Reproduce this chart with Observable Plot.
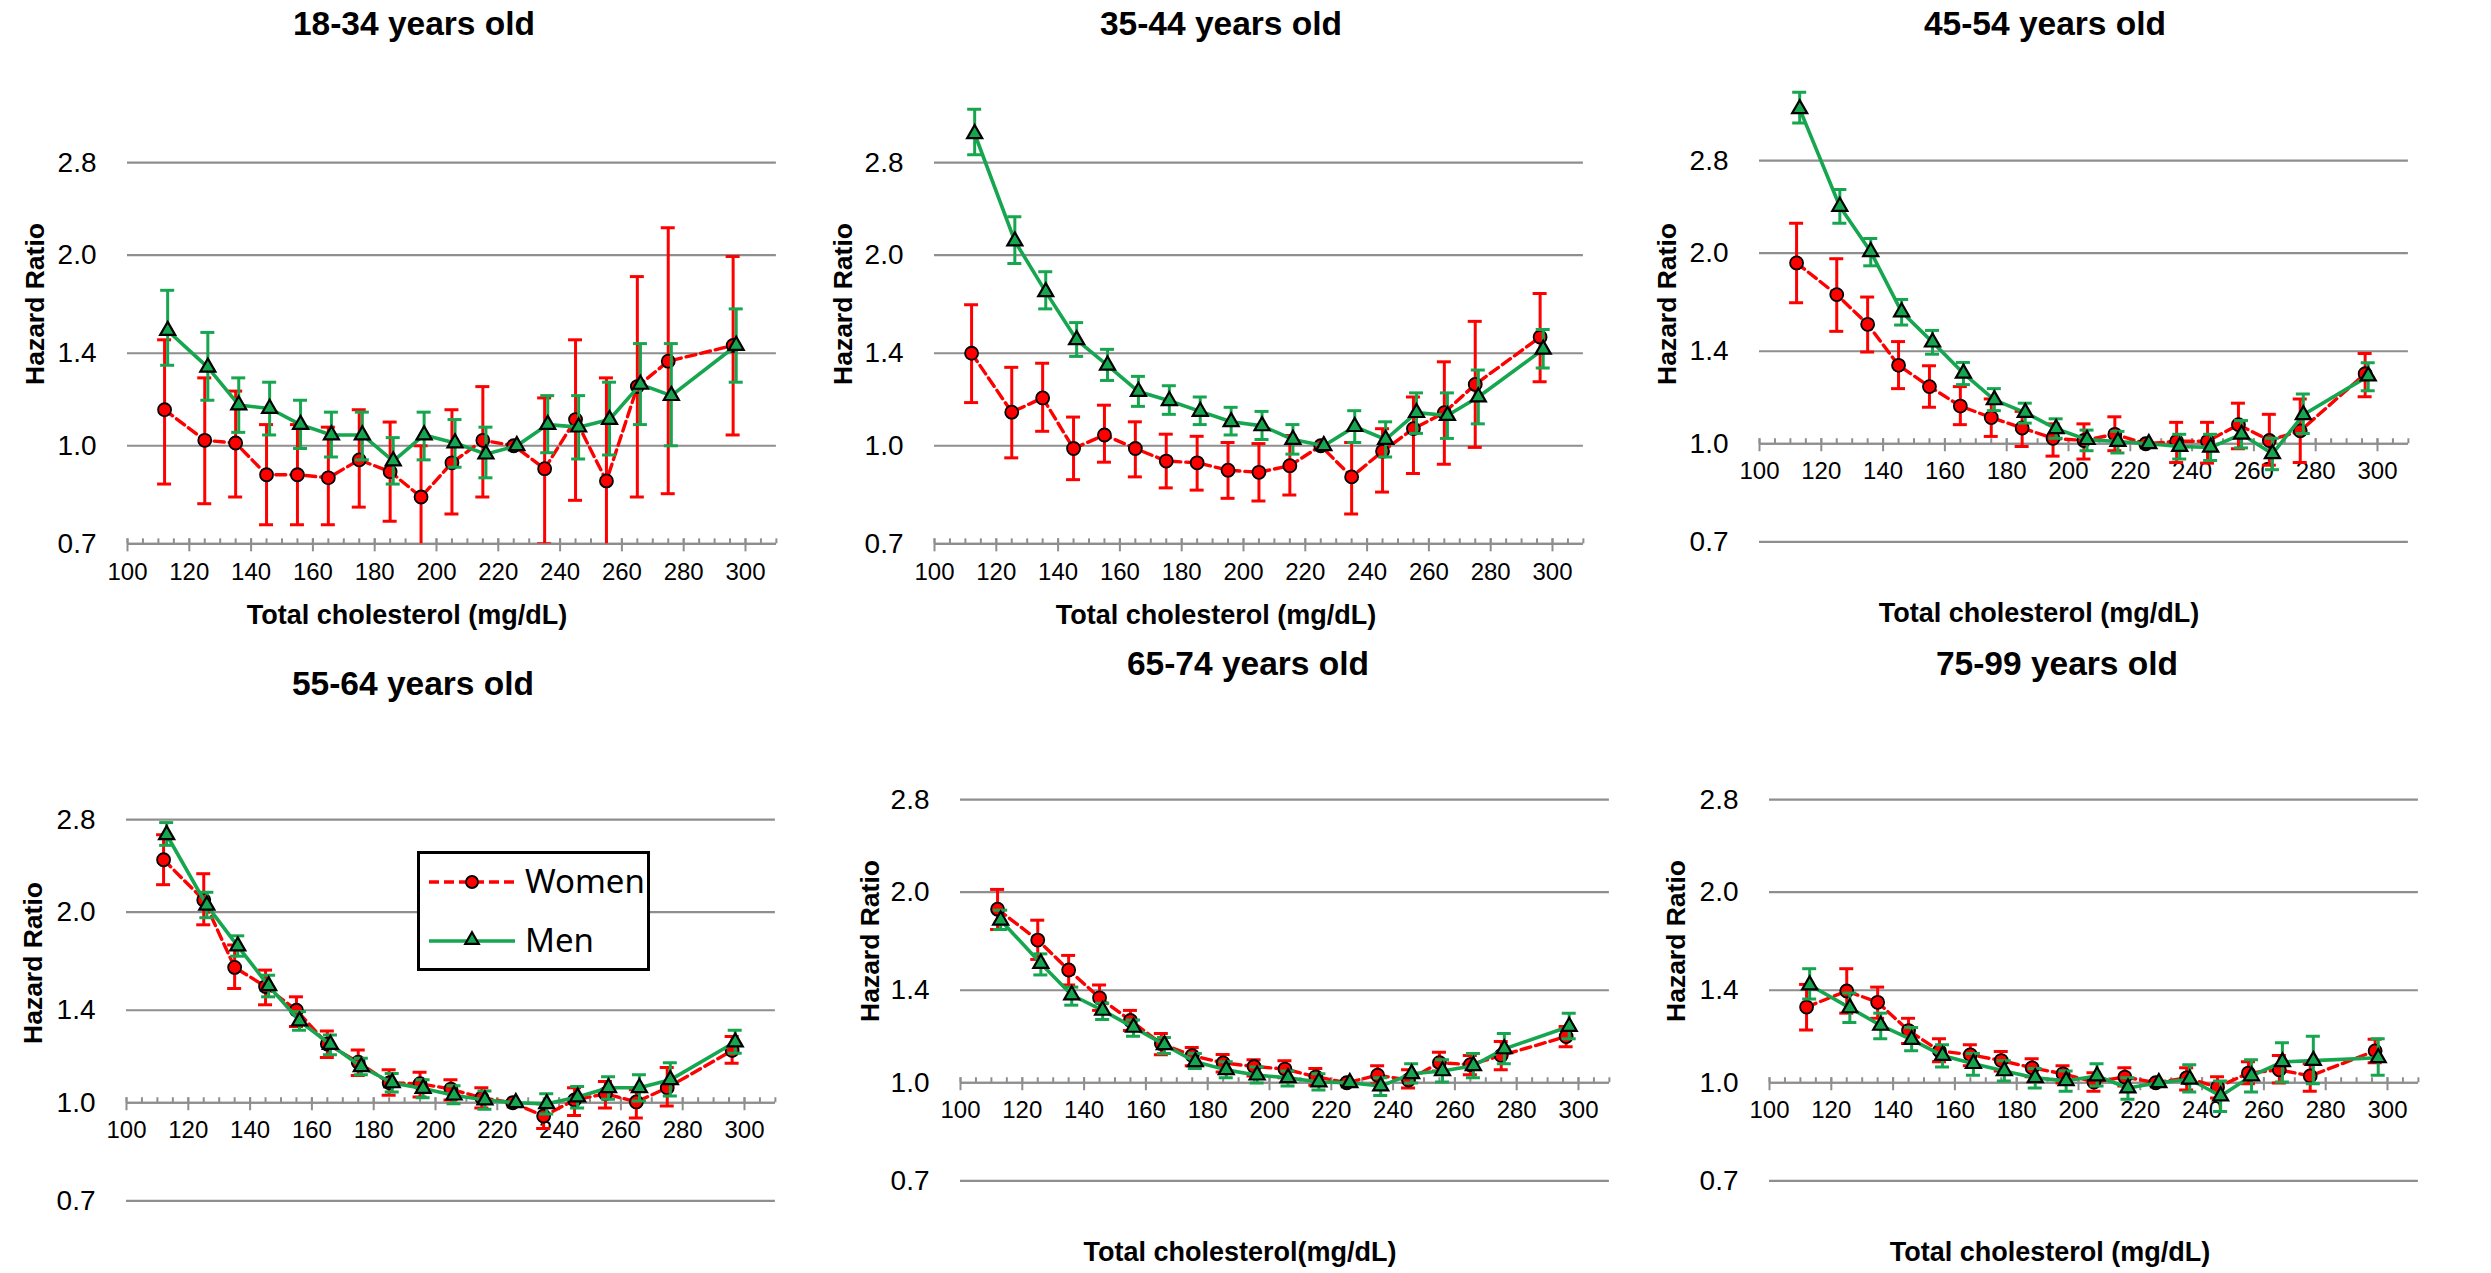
<!DOCTYPE html>
<html>
<head>
<meta charset="utf-8">
<script src="https://cdn.jsdelivr.net/npm/d3@7"></script>
<script src="https://cdn.jsdelivr.net/npm/@observablehq/plot@0.6"></script>
<style>
  body { margin: 0; background: #fff; }
  #wrap { position: relative; width: 2491px; height: 1273px; overflow: hidden; background: #fff;
          font-family: "Liberation Sans", Arial, sans-serif; color: #000; }
  .abs { position: absolute; white-space: nowrap; line-height: 1; }
  .title { font-weight: bold; font-size: 33.5px; transform: translate(-50%, -50%); }
  .ylab { font-weight: bold; font-size: 26.5px; transform: translate(-50%, -50%) rotate(-90deg); }
  .xlab { font-weight: bold; font-size: 27px; transform: translate(-50%, -50%); }
  .legend { position: absolute; background: #fff; border: 3px solid #000; box-sizing: border-box; }
  .legend span { position: absolute; font-family: "Noto Sans", sans-serif; font-size: 33px; line-height: 1; }
</style>
</head>
<body>
<div id="wrap"></div>
<script>
// ---------------- data ----------------
const xWomen = [112,125,135,145,155,165,175,185,195,205,215,225,235,245,255,265,275,296];
const xMen   = [113,126,136,146,156,166,176,186,196,206,216,226,236,246,256,266,276,297];
const yTicks = [0.7, 1.0, 1.4, 2.0, 2.8];
const xTicks = [100,120,140,160,180,200,220,240,260,280,300];
const xMinorTicks = [100,105,110,115,120,125,130,135,140,145,150,155,160,165,170,175,180,185,190,195,200,205,210,215,220,225,230,235,240,245,250,255,260,265,270,275,280,285,290,295,300,305,310];

// 18-34
const women_18_34    = [1.14,1.02,1.01,0.90,0.90,0.89,0.95,0.91,0.83,0.94,1.02,1.00,0.92,1.10,0.88,1.24,1.36,1.44];
const women_18_34_lo = [0.87,0.81,0.83,0.75,0.75,0.75,0.80,0.76,0.68,0.78,0.83,null,0.70,0.82,0.68,0.83,0.84,1.04];
const women_18_34_hi = [1.47,1.28,1.22,1.08,1.08,1.07,1.14,1.09,1.00,1.14,1.24,null,1.19,1.47,1.28,1.85,2.21,1.99];
const men_18_34      = [1.52,1.33,1.16,1.145,1.08,1.04,1.04,0.946,1.04,1.01,0.97,1.00,1.08,1.07,1.10,1.25,1.20,1.44];
const men_18_34_lo   = [1.34,1.18,1.05,1.04,0.99,0.96,0.95,0.87,0.95,0.925,0.89,null,0.975,0.953,0.967,1.08,1.00,1.26];
const men_18_34_hi   = [1.76,1.51,1.28,1.26,1.18,1.13,1.13,1.03,1.13,1.10,1.07,null,1.20,1.20,1.26,1.45,1.45,1.645];

// 35-44
const women_35_44    = [1.40,1.13,1.19,0.99,1.04,0.99,0.946,0.94,0.915,0.908,0.93,1.00,0.893,0.98,1.064,1.128,1.25,1.485];
const women_35_44_lo = [1.17,0.957,1.054,0.884,0.942,0.893,0.858,0.851,0.826,0.818,0.836,null,0.78,0.845,0.904,0.935,0.994,1.262];
const women_35_44_hi = [1.67,1.33,1.35,1.11,1.159,1.091,1.043,1.035,1.012,1.008,1.038,null,1.012,1.064,1.194,1.357,1.572,1.74];
const men_35_44      = [3.11,2.105,1.75,1.47,1.34,1.218,1.178,1.133,1.091,1.075,1.023,1.00,1.072,1.023,1.128,1.116,1.194,1.42];
const men_35_44_lo   = [2.88,1.94,1.645,1.384,1.268,1.154,1.121,1.08,1.04,1.023,0.97,null,1.012,0.96,1.046,1.027,1.083,1.327];
const men_35_44_hi   = [3.40,2.30,1.883,1.565,1.42,1.287,1.244,1.194,1.15,1.133,1.08,null,1.136,1.091,1.212,1.212,1.317,1.526];

// 45-54
const women_45_54    = [1.93,1.72,1.544,1.33,1.231,1.147,1.10,1.059,1.02,1.012,1.035,1.00,1.009,1.009,1.072,1.012,1.048,1.29];
const women_45_54_lo = [1.67,1.505,1.396,1.222,1.142,1.072,1.027,0.99,0.956,0.946,0.975,null,0.934,0.932,0.982,0.925,0.934,1.186];
const women_45_54_hi = [2.23,1.96,1.705,1.45,1.328,1.231,1.177,1.125,1.075,1.075,1.103,null,1.081,1.081,1.159,1.113,1.177,1.389];
const men_45_54      = [3.38,2.37,2.01,1.615,1.447,1.292,1.173,1.12,1.056,1.015,1.008,1.00,0.99,0.987,1.035,0.964,1.111,1.279];
const men_45_54_lo   = [3.21,2.23,1.91,1.54,1.385,1.24,1.128,1.078,1.02,0.975,0.967,null,0.946,0.941,0.985,0.91,1.038,1.213];
const men_45_54_hi   = [3.59,2.52,2.11,1.69,1.51,1.344,1.222,1.159,1.095,1.051,1.046,null,1.035,1.035,1.088,1.02,1.198,1.342];

// 55-64
const women_55_64    = [2.42,2.09,1.636,1.526,1.40,1.238,1.159,1.075,1.072,1.051,1.018,1.00,0.953,1.01,1.033,1.003,1.056,1.209];
const women_55_64_lo = [2.21,1.91,1.515,1.428,1.32,1.179,1.104,1.028,1.021,1.01,0.981,null,0.911,0.955,0.981,0.946,0.988,1.154];
const women_55_64_hi = [2.65,2.30,1.775,1.62,1.47,1.298,1.211,1.128,1.117,1.087,1.056,null,0.996,1.056,1.08,1.048,1.137,1.273];
const men_55_64      = [2.65,2.05,1.768,1.53,1.346,1.236,1.14,1.075,1.053,1.028,1.01,1.00,0.996,1.021,1.056,1.056,1.087,1.247];
const men_55_64_lo   = [2.55,1.96,1.704,1.47,1.302,1.191,1.107,1.04,1.018,0.996,0.977,null,0.96,0.981,1.013,1.006,1.025,1.197];
const men_55_64_hi   = [2.77,2.15,1.835,1.59,1.393,1.279,1.176,1.112,1.087,1.064,1.044,null,1.033,1.061,1.099,1.107,1.157,1.302];

// 65-74
const women_65_74    = [1.88,1.68,1.507,1.362,1.254,1.153,1.104,1.075,1.061,1.051,1.022,1.00,1.028,1.01,1.076,1.068,1.104,1.183];
const women_65_74_lo = [1.746,1.566,1.427,1.301,1.209,1.107,1.064,1.04,1.025,1.018,0.991,null,0.996,0.981,1.044,1.03,1.048,1.14];
const women_65_74_hi = [2.02,1.806,1.589,1.427,1.301,1.196,1.137,1.108,1.087,1.083,1.053,null,1.064,1.048,1.117,1.104,1.162,1.227];
const men_65_74      = [1.806,1.543,1.376,1.301,1.223,1.148,1.079,1.048,1.028,1.018,1.003,1.00,0.988,1.033,1.044,1.064,1.131,1.227];
const men_65_74_lo   = [1.746,1.48,1.326,1.259,1.184,1.112,1.053,1.018,0.999,0.988,0.974,null,0.955,0.999,1.003,1.018,1.072,1.174];
const men_65_74_hi   = [1.873,1.598,1.416,1.336,1.256,1.179,1.112,1.079,1.059,1.044,1.033,null,1.018,1.072,1.087,1.112,1.196,1.288];

// 75-99
const women_75_99    = [1.317,1.396,1.34,1.209,1.123,1.107,1.084,1.056,1.033,1.003,1.021,1.00,1.018,0.984,1.036,1.048,1.025,1.123];
const women_75_99_lo = [1.211,1.288,1.264,1.153,1.079,1.064,1.044,1.022,0.999,0.97,0.988,null,0.974,0.946,0.996,0.999,0.97,1.075];
const women_75_99_hi = [1.43,1.514,1.416,1.264,1.174,1.148,1.12,1.091,1.064,1.037,1.056,null,1.056,1.022,1.079,1.104,1.072,1.171];
const men_75_99      = [1.427,1.313,1.232,1.17,1.104,1.072,1.044,1.018,1.007,1.025,0.981,1.00,1.013,0.953,1.025,1.079,1.084,1.095];
const men_75_99_lo   = [1.356,1.245,1.174,1.123,1.059,1.028,1.006,0.981,0.97,0.988,0.942,null,0.967,0.901,0.967,1.003,0.996,1.028];
const men_75_99_hi   = [1.514,1.386,1.288,1.223,1.148,1.112,1.083,1.053,1.044,1.072,1.018,null,1.068,1.006,1.087,1.157,1.184,1.174];

const titles = ["18-34 years old","35-44 years old","45-54 years old","55-64 years old","65-74 years old","75-99 years old"];
const yLabel = "Hazard Ratio";
const xLabels = ["Total cholesterol (mg/dL)","Total cholesterol (mg/dL)","Total cholesterol (mg/dL)",null,"Total cholesterol(mg/dL)","Total cholesterol (mg/dL)"];
const legendLabels = ["Women","Men"];

// ---------------- style / layout ----------------
const RED = "#ff0000", GREEN = "#16a64f", GRID = "#8e8e8e";
const Y_MIN = 0.7, Y_MAX = 3.9;
const FONT = "'Liberation Sans', Arial, sans-serif";

const panels = [
  {w: women_18_34, wLo: women_18_34_lo, wHi: women_18_34_hi, m: men_18_34, mLo: men_18_34_lo, mHi: men_18_34_hi,
   x100: 127, y1px: 445, axisAt: 0.7, title: [414, 23.5], ylab: [35, 304], xlab: [407, 615]},
  {w: women_35_44, wLo: women_35_44_lo, wHi: women_35_44_hi, m: men_35_44, mLo: men_35_44_lo, mHi: men_35_44_hi,
   x100: 934, y1px: 445, axisAt: 0.7, title: [1221, 23.5], ylab: [843, 304], xlab: [1216, 615]},
  {w: women_45_54, wLo: women_45_54_lo, wHi: women_45_54_hi, m: men_45_54, mLo: men_45_54_lo, mHi: men_45_54_hi,
   x100: 1759, y1px: 443, axisAt: 1.0, title: [2045, 23.5], ylab: [1667, 304], xlab: [2039, 613]},
  {w: women_55_64, wLo: women_55_64_lo, wHi: women_55_64_hi, m: men_55_64, mLo: men_55_64_lo, mHi: men_55_64_hi,
   x100: 125.5, y1px: 1102.5, axisAt: 1.0, title: [413, 684], ylab: [33, 963], xlab: null},
  {w: women_65_74, wLo: women_65_74_lo, wHi: women_65_74_hi, m: men_65_74, mLo: men_65_74_lo, mHi: men_65_74_hi,
   x100: 959.5, y1px: 1082, axisAt: 1.0, title: [1248, 664], ylab: [870, 941], xlab: [1240, 1252]},
  {w: women_75_99, wLo: women_75_99_lo, wHi: women_75_99_hi, m: men_75_99, mLo: men_75_99_lo, mHi: men_75_99_hi,
   x100: 1768.5, y1px: 1082, axisAt: 1.0, title: [2057, 664], ylab: [1676, 941], xlab: [2050, 1252]}
];

const wrap = document.getElementById("wrap");

function rows(xs, v, lo, hi) {
  return xs.map((x, i) => ({x, v: v[i], lo: lo[i], hi: hi[i]}));
}

function addText(cls, text, cx, cy) {
  const d = document.createElement("div");
  d.className = "abs " + cls;
  d.textContent = text;
  d.style.left = cx + "px";
  d.style.top = cy + "px";
  wrap.appendChild(d);
}

function drawPanel(p, idx) {
  const ML = 90, MR = 14, MT = 10, MB = 45, PXU = 3.09, K = 275;
  const FW = 210 * PXU;
  const FH = K * Math.log(Y_MAX / Y_MIN);
  const y07 = p.y1px + K * Math.log(1 / 0.7);
  const W = rows(xWomen, p.w, p.wLo, p.wHi);
  const M = rows(xMen, p.m, p.mLo, p.mHi);
  const hasBar = d => d.lo != null;

  const svg = Plot.plot({
    width: ML + FW + MR,
    height: MT + FH + MB,
    marginLeft: ML, marginRight: MR, marginTop: MT, marginBottom: MB,
    x: {domain: [100, 310], axis: null},
    y: {type: "log", domain: [Y_MIN, Y_MAX], axis: null},
    style: {fontFamily: FONT, overflow: "visible", background: "transparent", color: "#000"},
    marks: [
      // horizontal gridlines
      Plot.ruleY(yTicks, {y: d => d, x1: 100, x2: 310, stroke: GRID, strokeWidth: 2.2}),
      // x axis line + ticks
      Plot.ruleY([p.axisAt], {y: d => d, x1: 100, x2: 310, stroke: GRID, strokeWidth: 2.2}),
      Plot.ruleX(xMinorTicks, {x: d => d, y1: p.axisAt, y2: p.axisAt, insetTop: -5, insetBottom: 0, stroke: GRID, strokeWidth: 2}),
      Plot.ruleX(xTicks, {x: d => d, y1: p.axisAt, y2: p.axisAt, insetTop: -5, insetBottom: -8, stroke: GRID, strokeWidth: 2}),
      Plot.text(xTicks, {x: d => d, y: p.axisAt, dy: 28, text: d => String(d), fontSize: 24, fill: "#000"}),
      // y tick labels
      Plot.text(yTicks, {x: 100, y: d => d, dx: -31, textAnchor: "end", text: d => d.toFixed(1), fontSize: 28, fill: "#000"}),
      // women
      Plot.ruleX(W, {filter: hasBar, x: "x", y1: "lo", y2: "hi", stroke: RED, strokeWidth: 3, clip: true}),
      Plot.ruleY(W, {filter: hasBar, y: "lo", x1: "x", x2: "x", insetLeft: -7, insetRight: -7, stroke: RED, strokeWidth: 3, clip: true}),
      Plot.ruleY(W, {filter: hasBar, y: "hi", x1: "x", x2: "x", insetLeft: -7, insetRight: -7, stroke: RED, strokeWidth: 3, clip: true}),
      Plot.line(W, {x: "x", y: "v", stroke: RED, strokeWidth: 3.4, strokeDasharray: "10,5"}),
      Plot.dot(W, {x: "x", y: "v", r: 6.5, fill: RED, stroke: "#000", strokeWidth: 1.8}),
      // men
      Plot.ruleX(M, {filter: hasBar, x: "x", y1: "lo", y2: "hi", stroke: GREEN, strokeWidth: 3, clip: true}),
      Plot.ruleY(M, {filter: hasBar, y: "lo", x1: "x", x2: "x", insetLeft: -7, insetRight: -7, stroke: GREEN, strokeWidth: 3, clip: true}),
      Plot.ruleY(M, {filter: hasBar, y: "hi", x1: "x", x2: "x", insetLeft: -7, insetRight: -7, stroke: GREEN, strokeWidth: 3, clip: true}),
      Plot.line(M, {x: "x", y: "v", stroke: GREEN, strokeWidth: 3.6}),
      Plot.dot(M, {x: "x", y: "v", symbol: "triangle", r: 5.6, fill: GREEN, stroke: "#000", strokeWidth: 2.2})
    ]
  });
  svg.style.position = "absolute";
  svg.style.left = (p.x100 - ML) + "px";
  svg.style.top = (y07 - FH - MT) + "px";
  svg.style.maxWidth = "none";
  wrap.appendChild(svg);

  addText("title", titles[idx], p.title[0], p.title[1]);
  addText("ylab", yLabel, p.ylab[0], p.ylab[1]);
  if (p.xlab && xLabels[idx]) addText("xlab", xLabels[idx], p.xlab[0], p.xlab[1]);
}

panels.forEach(drawPanel);

// ---------------- legend (inside 55-64 panel) ----------------
(function legend() {
  const box = document.createElement("div");
  box.className = "legend";
  box.style.left = "417px"; box.style.top = "851px";
  box.style.width = "233px"; box.style.height = "120px";
  const ns = "http://www.w3.org/2000/svg";
  const s = document.createElementNS(ns, "svg");
  s.setAttribute("width", 110); s.setAttribute("height", 114);
  s.style.position = "absolute"; s.style.left = "0px"; s.style.top = "0px";
  s.innerHTML =
    `<line x1="9" x2="95" y1="28" y2="28" stroke="${RED}" stroke-width="3.4" stroke-dasharray="10,5"/>` +
    `<circle cx="52" cy="28" r="6" fill="${RED}" stroke="#000" stroke-width="1.8"/>` +
    `<line x1="9" x2="95" y1="87" y2="87" stroke="${GREEN}" stroke-width="3.6"/>` +
    `<path d="${d3.symbol(d3.symbolTriangle, 5 * 5 * Math.PI)()}" transform="translate(52,86)" fill="${GREEN}" stroke="#000" stroke-width="2.2"/>`;
  box.appendChild(s);
  legendLabels.forEach((t, i) => {
    const sp = document.createElement("span");
    sp.textContent = t;
    sp.style.left = "105px";
    sp.style.top = (i === 0 ? 10 : 69) + "px";
    box.appendChild(sp);
  });
  wrap.appendChild(box);
})();
</script>
</body>
</html>
